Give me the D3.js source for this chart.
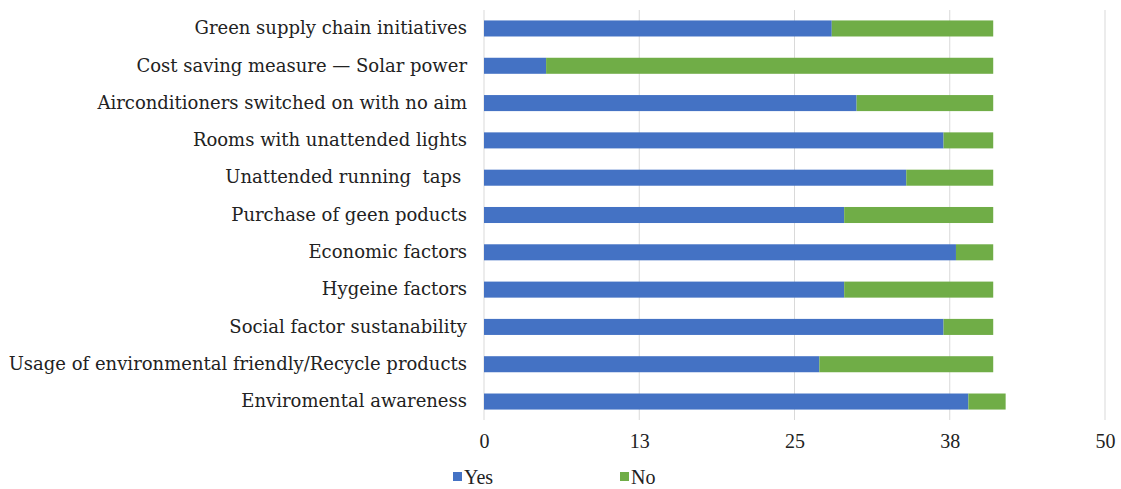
<!DOCTYPE html>
<html>
<head>
<meta charset="utf-8">
<script src="https://cdn.jsdelivr.net/npm/d3@7"></script>
<style>
  body { margin: 0; background: #fff; }
  svg text { fill: #222; white-space: pre; }
</style>
</head>
<body>
<div id="chart"></div>
<script>
const categories = [
  'Green supply chain initiatives',
  'Cost saving measure \u2014 Solar power',
  'Airconditioners switched on with no aim',
  'Rooms with unattended lights',
  'Unattended running  taps ',
  'Purchase of geen poducts',
  'Economic factors',
  'Hygeine factors',
  'Social factor sustanability',
  'Usage of environmental friendly/Recycle products',
  'Enviromental awareness'
];
const yesValues = [28, 5, 30, 37, 34, 29, 38, 29, 37, 27, 39];
const noValues = [13, 36, 11, 4, 7, 12, 3, 12, 4, 14, 3];
const seriesNames = ['Yes', 'No'];
const seriesColors = ['#4472c4', '#70ad47'];
const tickValues = [0, 12.5, 25, 37.5, 50];

const width = 1121, height = 489;
const margin = { top: 10, right: 16, bottom: 69, left: 484 };

const svg = d3.select('#chart').append('svg')
  .attr('width', width)
  .attr('height', height);

const x = d3.scaleLinear()
  .domain([0, 50])
  .range([margin.left, width - margin.right]);

const y = d3.scaleBand()
  .domain(categories)
  .range([margin.top, height - margin.bottom])
  .paddingInner(0.57)
  .paddingOuter(0.28);

// grid
svg.append('g')
  .selectAll('line')
  .data(tickValues)
  .join('line')
  .attr('x1', d => x(d))
  .attr('x2', d => x(d))
  .attr('y1', margin.top)
  .attr('y2', height - margin.bottom)
  .attr('stroke', '#d9d9d9')
  .attr('stroke-width', 1);

const rows = categories.map((c, i) => ({ cat: c, Yes: yesValues[i], No: noValues[i] }));
const stacked = d3.stack().keys(seriesNames)(rows);

svg.append('g')
  .selectAll('g')
  .data(stacked)
  .join('g')
  .attr('fill', (d, i) => seriesColors[i])
  .selectAll('rect')
  .data(d => d)
  .join('rect')
  .attr('x', d => x(d[0]))
  .attr('width', d => x(d[1]) - x(d[0]))
  .attr('y', d => y(d.data.cat))
  .attr('height', y.bandwidth());

// y labels
const yAxis = svg.append('g')
  .attr('transform', 'translate(' + (margin.left - 17) + ',0)')
  .call(d3.axisLeft(y).tickSize(0).tickPadding(0));
yAxis.select('.domain').remove();
yAxis.selectAll('text')
  .style('font-family', '"DejaVu Serif", serif')
  .style('font-size', '18px')
  .attr('fill', '#222');

// x labels
const xAxis = svg.append('g')
  .attr('transform', 'translate(0,' + (height - margin.bottom) + ')')
  .call(d3.axisBottom(x).tickValues(tickValues).tickSize(0).tickPadding(14)
    .tickFormat(d => Math.round(d)));
xAxis.select('.domain').remove();
xAxis.selectAll('text')
  .style('font-family', '"Liberation Serif", serif')
  .style('font-size', '20px')
  .attr('fill', '#222');

// legend
const legend = svg.append('g')
  .selectAll('g')
  .data(seriesNames)
  .join('g')
  .attr('transform', (d, i) => 'translate(' + (453 + i * 167) + ',' + 472 + ')');
legend.append('rect')
  .attr('width', 9).attr('height', 9)
  .attr('fill', (d, i) => seriesColors[i]);
legend.append('text')
  .attr('x', 11).attr('y', 12)
  .style('font-family', '"Liberation Serif", serif')
  .style('font-size', '20px')
  .attr('fill', '#222')
  .text(d => d);
</script>
</body>
</html>
